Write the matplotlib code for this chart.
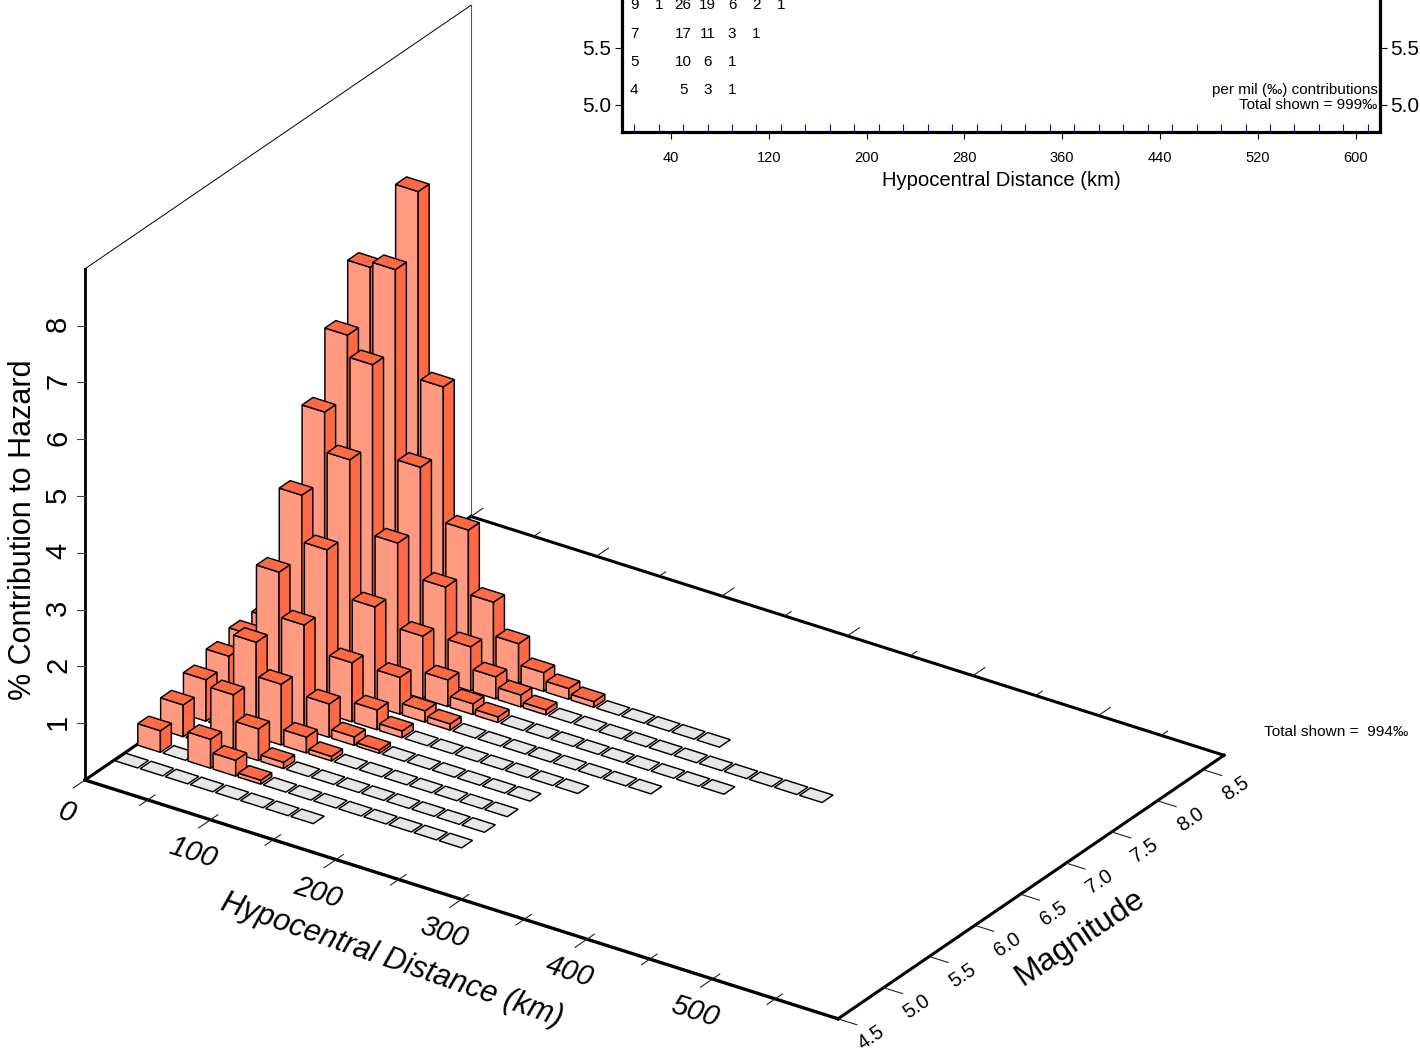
import matplotlib
matplotlib.use('Agg')
import matplotlib.pyplot as plt
import numpy as np

plt.rcParams['font.family'] = ['Liberation Sans', 'DejaVu Sans']

W, H = 1420, 1051

# 3D bars: % contribution per distance bin (20 km wide), one list per magnitude bin
mag_rows = [4.875, 5.125, 5.375, 5.625, 5.875, 6.125, 6.375, 6.625, 6.875, 7.125]
n_cols = [8, 13, 13, 13, 13, 14, 16, 18, 21, 16]
row_4875 = []
row_5125 = [0.38, 0, 0.51, 0.28, 0.07]
row_5375 = [0.56, 0, 1.02, 0.56, 0.11]
row_5625 = [0.73, 0, 1.67, 1.07, 0.28, 0.08]
row_5875 = [0.87, 0.1, 2.63, 1.84, 0.59, 0.15, 0.06]
row_6125 = [0.97, 0.1, 3.71, 2.89, 1.04, 0.35, 0.12]
row_6375 = [0.98, 0.1, 4.9, 4.2, 1.75, 0.65, 0.2, 0.11]
row_6625 = [1.0, 0.1, 5.98, 5.6, 2.6, 1.1, 0.47, 0.19, 0.1]
row_6875 = [0.9, 0.1, 6.9, 7.0, 3.66, 1.69, 0.78, 0.39, 0.21, 0.09]
row_7125 = [0.7, 0.1, 4.0, 8.1, 4.8, 2.42, 1.29, 0.7, 0.33, 0.19, 0.1]
heights = [row_4875, row_5125, row_5375, row_5625, row_5875,
           row_6125, row_6375, row_6625, row_6875, row_7125]

# inset table (per mil), only the rows that show
inset_mags = [5.125, 5.375, 5.625, 5.875]
inset_dist = [10, 30, 50, 70, 90, 110, 130]
inset_5125 = [4, 0, 5, 3, 1, 0, 0]
inset_5375 = [5, 0, 10, 6, 1, 0, 0]
inset_5625 = [7, 0, 17, 11, 3, 1, 0]
inset_5875 = [9, 1, 26, 19, 6, 2, 1]
inset_vals = [inset_5125, inset_5375, inset_5625, inset_5875]

dist_ticks = [0, 100, 200, 300, 400, 500]
dist_minor = [50, 150, 250, 350, 450, 550]
mag_ticks = [4.5, 5.0, 5.5, 6.0, 6.5, 7.0, 7.5, 8.0, 8.5]
z_ticks = [1, 2, 3, 4, 5, 6, 7, 8]

DIST_MAX = 600
MAG_MIN, MAG_MAX = 4.5, 8.73
Z_MAX = 9
LIGHT = '#FF9980'
DARK = '#FF6A45'
GREY = '#E6E6E6'


def proj(x, m, z=0):
    # axonometric view, pixels of the figure
    px = 85 + 1.255 * x + 91.25 * (m - MAG_MIN)
    py = 780 + 0.398 * x - 62.3 * (m - MAG_MIN) - 56.8 * z
    return px, py


fig = plt.figure(figsize=(W / 100, H / 100), dpi=100)
ax = fig.add_axes([0, 0, 1, 1])
ax.set_xlim(0, W)
ax.set_ylim(H, 0)
ax.axis('off')


def line(p0, p1, lw=0.8, color='black', zorder=1):
    ax.plot([p0[0], p1[0]], [p0[1], p1[1]], color=color, lw=lw, zorder=zorder,
            solid_capstyle='projecting')


def face(pts, color):
    ax.fill([p[0] for p in pts], [p[1] for p in pts], facecolor=color,
            edgecolor='black', lw=1.05, joinstyle='miter', zorder=3)


# walls and floor frame
line(proj(0, MAG_MIN, 0), proj(0, MAG_MIN, Z_MAX), lw=2.0)
line(proj(0, MAG_MAX, 0), proj(0, MAG_MAX, Z_MAX), lw=0.8, color='#555555')
line(proj(0, MAG_MIN, Z_MAX), proj(0, MAG_MAX, Z_MAX), lw=0.7)
line(proj(0, MAG_MIN), proj(0, MAG_MAX), lw=2.2)
line(proj(0, MAG_MAX), proj(DIST_MAX, MAG_MAX), lw=2.2)
line(proj(0, MAG_MIN), proj(DIST_MAX, MAG_MIN), lw=2.4)
line(proj(DIST_MAX, MAG_MIN), proj(DIST_MAX, MAG_MAX), lw=2.2)

# ticks on the distance axis, front and back
for d in dist_ticks:
    line(proj(d, MAG_MIN - 0.13), proj(d, MAG_MIN + 0.08 if d > 0 else MAG_MIN), color='#222222')
    line(proj(d, MAG_MAX), proj(d, MAG_MAX + 0.13), color='#222222')
for d in dist_minor:
    line(proj(d, MAG_MIN - 0.09), proj(d, MAG_MIN + 0.08), color='#222222')
    line(proj(d, MAG_MAX), proj(d, MAG_MAX + 0.07), color='#222222')
for m in mag_ticks:
    line(proj(DIST_MAX, m), proj(DIST_MAX + 15, m), color='#222222')
for z in z_ticks:
    p = proj(0, MAG_MIN, z)
    line(p, (p[0] - 8, p[1]), color='#444444')

# bars, back row first, then toward larger distance
for m, vals, n in reversed(list(zip(mag_rows, heights, n_cols))):
    m0, m1 = m - 0.06, m + 0.06
    for c in range(n):
        x0, x1 = 1 + 20 * c, 19 + 20 * c
        z = vals[c] if c < len(vals) else 0
        if z == 0:
            face([proj(x0, m0), proj(x1, m0), proj(x1, m1), proj(x0, m1)], GREY)
            continue
        face([proj(x0, m0), proj(x1, m0), proj(x1, m0, z), proj(x0, m0, z)], LIGHT)
        face([proj(x1, m0), proj(x1, m1), proj(x1, m1, z), proj(x1, m0, z)], DARK)
        face([proj(x0, m0, z), proj(x1, m0, z), proj(x1, m1, z), proj(x0, m1, z)], DARK)

# axis annotation of the 3D plot
for d in dist_ticks:
    px, py = proj(d, MAG_MIN)
    ax.text(px - 18, py + 33, str(d), fontsize=21, style='italic',
            rotation=-17.6, rotation_mode='anchor', ha='center', va='center')
ax.text(392, 960, 'Hypocentral Distance (km)', fontsize=22, style='italic',
        rotation=-19, rotation_mode='anchor', ha='center', va='center')
for m in mag_ticks:
    px, py = proj(DIST_MAX, m)
    ax.text(px + 33, py + 19, '%.1f' % m, fontsize=14.5, rotation=34,
            rotation_mode='anchor', ha='center', va='center')
ax.text(1080, 938, 'Magnitude', fontsize=23, rotation=34,
        rotation_mode='anchor', ha='center', va='center')
for z in z_ticks:
    px, py = proj(0, MAG_MIN, z)
    ax.text(px - 27, py - 1.5, str(z), fontsize=21, rotation=90,
            rotation_mode='anchor', ha='center', va='center')
ax.text(23, 530, '% Contribution to Hazard', fontsize=22, rotation=90,
        rotation_mode='anchor', ha='center', va='center')
ax.text(1264, 732, 'Total shown =  994‰', fontsize=11.1, ha='left', va='center')

# inset table, its top runs off the page
left, right, bottom = 622, 1380, 132
ins = fig.add_axes([left / W, 1 - bottom / H, (right - left) / W, bottom / H])
ins.set_xlim(0, 620)
ins.set_ylim(4.76, 5.92)
ins.patch.set_alpha(0)
ins.spines['top'].set_visible(False)
for s in ['left', 'right', 'bottom']:
    ins.spines[s].set_linewidth(2.3)
ins.set_xticks(np.arange(40, 601, 80))
ins.set_xticks(np.arange(10, 620, 20), minor=True)
ins.tick_params(axis='x', which='major', length=5, width=0.8, labelsize=10.5, pad=9)
ins.tick_params(axis='x', which='minor', direction='in', length=6, width=0.8, color='blue')
ins.set_yticks([5.0, 5.5])
ins.set_yticklabels(['5.0', '5.5'])
ins.tick_params(axis='y', which='major', length=5, width=0.8, labelsize=15, pad=2.5,
                left=True, right=True, labelleft=True, labelright=True)
ins.set_xlabel('Hypocentral Distance (km)', fontsize=14.6, labelpad=4)
for m, vals in zip(inset_mags, inset_vals):
    for d, v in zip(inset_dist, vals):
        if v > 0:
            ins.text(d, m, str(v), fontsize=11, ha='center', va='center', clip_on=False)
ins.text(618, 5.13, 'per mil (‰) contributions', fontsize=11, ha='right', va='center')
ins.text(618, 5.0, 'Total shown = 999‰', fontsize=11, ha='right', va='center')

fig.savefig('out.png', dpi=100)
